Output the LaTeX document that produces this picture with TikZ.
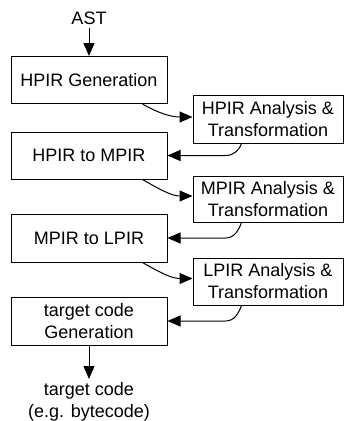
\documentclass[tikz,border=0pt]{standalone}
\usepackage{fontspec}
\setmainfont{Liberation Sans}
\usetikzlibrary{arrows.meta,calc}
\begin{document}
\begin{tikzpicture}[x=1pt,y=-1pt,
  box/.style={draw,line width=1pt,minimum width=156pt,minimum height=47pt,align=center,inner sep=0pt,font=\fontsize{18}{22}\selectfont},
  rbox/.style={box,minimum width=150pt},
  arr/.style={line width=1pt,-{Triangle[length=13pt,width=11pt]}},
  lbl/.style={align=center,inner sep=3pt,font=\fontsize{18}{22}\selectfont}]
\useasboundingbox (0,0) rectangle (347,421);
\node[lbl] (ast) at (89,18) {AST};
\node[box] (l1) at (89,80) {HPIR Generation};
\node[rbox,minimum height=48pt] (r1) at (268,119) {HPIR Analysis \&\\Transformation};
\node[box] (l2) at (89,155.5) {HPIR to MPIR};
\node[rbox,minimum height=46pt] (r2) at (268,199) {MPIR Analysis \&\\Transformation};
\node[box,minimum height=48pt] (l3) at (89,238) {MPIR to LPIR};
\node[rbox] (r3) at (268,281.5) {LPIR Analysis \&\\Transformation};
\node[box,minimum height=48pt] (l4) at (89,321) {target code\\Generation};
\node[lbl,anchor=north] (out) at (89,379) {target code\\(e.g. bytecode)};
\draw[arr] (ast) -- (l1);
\draw[arr] (l4) -- (out);
\draw[arr] ([xshift=-25pt]l1.south east) to[out=-30,in=180] ([yshift=2pt]r1.west);
\draw[arr] ([xshift=-25pt]l2.south east) to[out=-30,in=180] ([yshift=3pt]r2.west);
\draw[arr] ([xshift=-25pt]l3.south east) to[out=-30,in=180] ([yshift=3pt]r3.west);
\draw[arr] ([xshift=49pt]r1.south west) to[out=-110,in=0] ($(l2.east)+(58,0)$) -- (l2.east);
\draw[arr] ([xshift=49pt]r2.south west) to[out=-110,in=0] ($(l3.east)+(58,0)$) -- (l3.east);
\draw[arr] ([xshift=49pt]r3.south west) to[out=-110,in=0] ($(l4.east)+(58,0)$) -- (l4.east);
\end{tikzpicture}
\end{document}
